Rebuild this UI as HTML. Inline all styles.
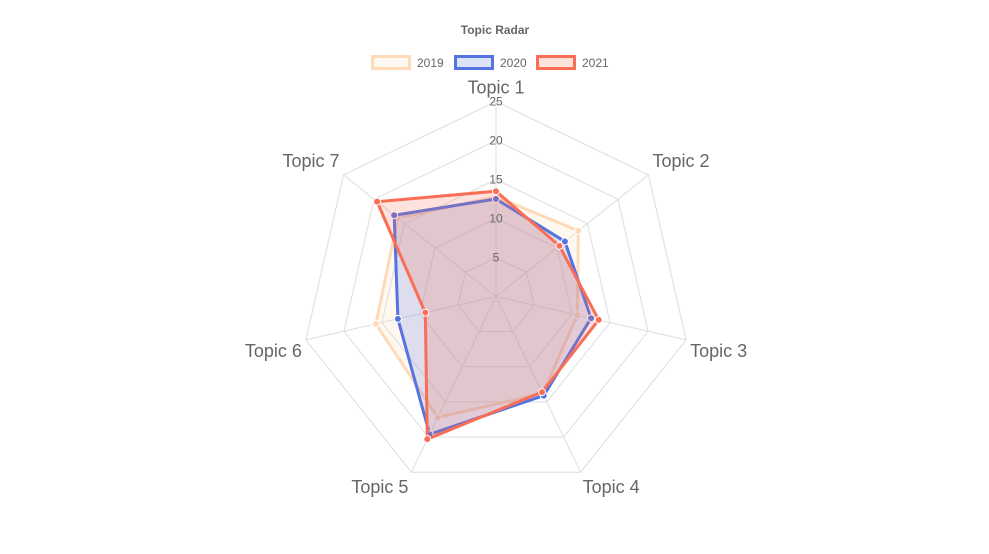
<!DOCTYPE html>
<html><head><meta charset="utf-8">
<style>
html,body{margin:0;padding:0;background:#fff;}
svg{display:block;font-family:"Liberation Sans",sans-serif;}
</style></head>
<body>
<svg id="chart" width="989" height="554" viewBox="0 0 989 554">
<text x="495" y="34" text-anchor="middle" font-size="12" font-weight="bold" fill="#666">Topic Radar</text>
<g id="legend"></g>
<g id="grid"></g>
<g id="series"></g>
<g id="ticks"></g>
</svg>
<script>
const categories = ["Topic 1","Topic 2","Topic 3","Topic 4","Topic 5","Topic 6","Topic 7"];
const seriesNames = ["2019","2020","2021"];
const values2019 = [12.8,13.5,10.7,13.8,17.2,15.8,16.1];
const values2020 = [12.5,11.3,12.5,14.1,19.6,12.9,16.7];
const values2021 = [13.5,10.4,13.5,13.6,20.3,9.3,19.5];
const tickValues = [5,10,15,20,25];
const maxValue = 25;

const NS="http://www.w3.org/2000/svg";
const cx=496, cy=296.5, R=195;
const strokes=["rgb(255,218,185)","rgb(85,115,225)","rgb(250,110,85)"];
const fills=["rgba(255,218,185,0.2)","rgba(85,115,225,0.2)","rgba(250,110,85,0.2)"];
const allVals=[values2019,values2020,values2021];
function ang(i){return -Math.PI/2+i*2*Math.PI/categories.length;}
function rScale(v){return v/maxValue*R;}
function pt(i,v){const a=ang(i),r=rScale(v);return [cx+r*Math.cos(a),cy+r*Math.sin(a)];}
function mk(tag,attrs,parent){const e=document.createElementNS(NS,tag);for(const k in attrs)e.setAttribute(k,attrs[k]);parent.appendChild(e);return e;}

const grid=document.getElementById('grid');
tickValues.forEach(t=>{
  const pts=categories.map((c,i)=>pt(i,t).join(',')).join(' ');
  const p=mk('polygon',{points:pts,fill:'none',stroke:'#ddd','stroke-width':1},grid);
  
  
});
categories.forEach((c,i)=>{
  const [x,y]=pt(i,maxValue);
  const l=mk('line',{x1:cx,y1:cy,x2:x,y2:y,stroke:'#ddd','stroke-width':1},grid);
  
  
  const ca=Math.cos(ang(i)), sa=Math.sin(ang(i));
  let lx=x, ly=y, anchor='middle';
  if(i===0){ly=y-8;}
  else {
    anchor = ca>0?'start':'end';
    const sg = ca>0?1:-1;
    if(sa<-0.3){lx=x+4*sg; ly=y-8;}
    else if(sa<0.5){lx=x+4*sg; ly=y+17;}
    else {lx=x+(ca>0?2:-3); ly=y+21;}
  }
  const t=mk('text',{x:lx,y:ly,'text-anchor':anchor,'font-size':18,fill:'#666'},grid);
  t.textContent=c;
  
  
});

const ser=document.getElementById('series');
allVals.forEach((vals,s)=>{
  const g=mk('g',{},ser);
  
  
  const pts=vals.map((v,i)=>pt(i,v).join(',')).join(' ');
  const p=mk('polygon',{points:pts,fill:fills[s],stroke:strokes[s],'stroke-width':3,'stroke-linejoin':'miter'},g);
  
  
  vals.forEach((v,i)=>{
    const [x,y]=pt(i,v);
    const c=mk('circle',{cx:x,cy:y,r:3.5,fill:strokes[s],stroke:'#fff','stroke-width':1},g);
    
    
  });
});

const ticks=document.getElementById('ticks');
tickValues.forEach(t=>{
  const y=cy-rScale(t);
  const tx=mk('text',{x:cx,y:y+4,'text-anchor':'middle','font-size':12,fill:'#666'},ticks);
  tx.textContent=t;
  
  
});

const leg=document.getElementById('legend');
const lx0=[371,454,536];
seriesNames.forEach((n,s)=>{
  const g=mk('g',{},leg);
  
  
  mk('rect',{x:lx0[s]+1.5,y:56.5,width:37,height:12,fill:fills[s],stroke:strokes[s],'stroke-width':3},g);
  const t=mk('text',{x:lx0[s]+46,y:67,'font-size':12,fill:'#666'},g);
  t.textContent=n;
});
</script>
</body></html>
